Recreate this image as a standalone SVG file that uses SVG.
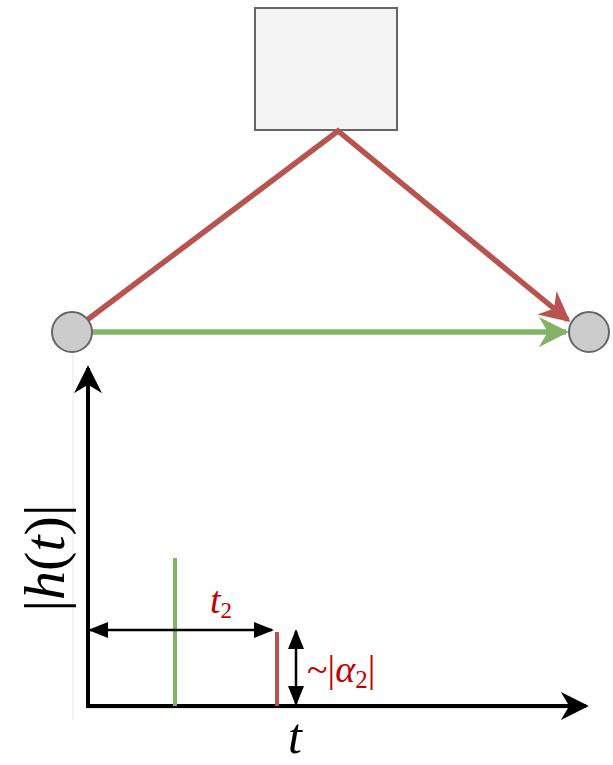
<svg xmlns="http://www.w3.org/2000/svg" width="613" height="765" viewBox="0 0 613 765">
<style>
.node{fill:#cccccc;stroke:#666666;stroke-width:2}
.red{stroke:#b85450;stroke-width:5.5;fill:none}
.green{stroke:#82b366;stroke-width:5.5;fill:none}
.axis{stroke:#000;stroke-width:4;fill:none}
.dim{stroke:#000;stroke-width:2.5;fill:none}
.math{font-family:"Liberation Serif","DejaVu Serif",serif;font-style:italic}
.up{font-family:"Liberation Serif","DejaVu Serif",serif;font-style:normal}
.lbl{fill:#c00000}
</style>
<defs>
<marker id="ar" viewBox="0 0 10 10" refX="9" refY="5" markerWidth="5.5" markerHeight="5.5" orient="auto" markerUnits="strokeWidth"><path d="M0,0 L10,5 L0,10 L3,5 Z" fill="#b85450"/></marker>
<marker id="ag" viewBox="0 0 10 10" refX="9" refY="5" markerWidth="5.5" markerHeight="5.5" orient="auto" markerUnits="strokeWidth"><path d="M0,0 L10,5 L0,10 L3,5 Z" fill="#82b366"/></marker>
<marker id="ak" viewBox="0 0 10 10" refX="9" refY="5" markerWidth="7" markerHeight="7" orient="auto" markerUnits="strokeWidth"><path d="M0,0 L10,5 L0,10 L3,5 Z" fill="#000"/></marker>
<marker id="ad" viewBox="0 0 10 10" refX="9" refY="5" markerWidth="8" markerHeight="8" orient="auto-start-reverse" markerUnits="strokeWidth"><path d="M0,1 L10,5 L0,9 Z" fill="#000"/></marker>
</defs>
<line x1="73" y1="352" x2="73" y2="720" stroke="#e6e6e6" stroke-width="1"/>
<line x1="86" y1="708" x2="580" y2="708" stroke="#cfcfcf" stroke-width="1"/>
<g id="box"><rect x="255" y="8" width="142" height="122" fill="#f4f4f4" stroke="#666666" stroke-width="2"/></g>
<g id="connectors">
<polyline class="red" points="87,320 338,131 568,320" marker-end="url(#ar)"/>
<line class="green" x1="92" y1="332" x2="566" y2="332" marker-end="url(#ag)"/>
</g>
<g id="nodeA"><circle class="node" cx="72" cy="332" r="20"/></g>
<g id="nodeB"><circle class="node" cx="589" cy="332" r="20"/></g>
<g id="plot">
<line class="axis" x1="88" y1="707" x2="88" y2="368" marker-end="url(#ak)"/>
<line class="axis" x1="86" y1="706" x2="586" y2="706" marker-end="url(#ak)"/>
<line stroke="#82b366" stroke-width="4" x1="175" y1="558" x2="175" y2="706"/>
<line stroke="#b85450" stroke-width="4" x1="277" y1="632" x2="277" y2="706"/>
<line class="dim" x1="90" y1="630" x2="272" y2="630" marker-start="url(#ad)" marker-end="url(#ad)"/>
<line class="dim" x1="296" y1="631" x2="296" y2="704" marker-start="url(#ad)" marker-end="url(#ad)"/>
<text class="lbl" x="210" y="613" font-size="38"><tspan class="math">t</tspan><tspan class="up" font-size="23" dy="5">2</tspan></text>
<text class="lbl up" x="307" y="682" font-size="38">~|<tspan class="math">α</tspan><tspan font-size="25" dy="6">2</tspan><tspan dy="-6">|</tspan></text>
<text transform="translate(64,558) rotate(-90)" text-anchor="middle" font-size="58" class="up">|<tspan class="math">h</tspan>(<tspan class="math">t</tspan>)|</text>
<text x="295" y="753" text-anchor="middle" font-size="50" class="math">t</text>
</g>
</svg>
